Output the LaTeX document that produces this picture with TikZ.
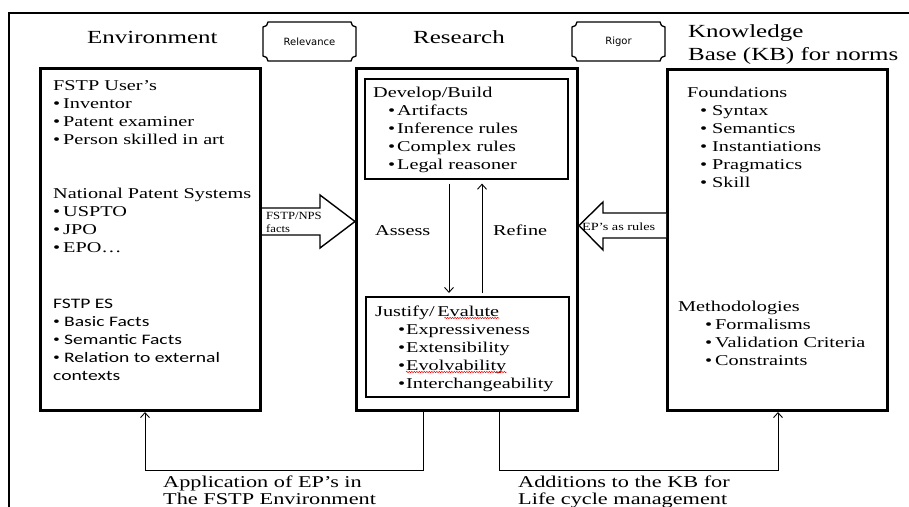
\documentclass[tikz,border=0pt]{standalone}
\usepackage{fontspec}
\setmainfont{Liberation Serif}[FakeStretch=1.35]
\newfontfamily\calfont{Carlito}[FakeStretch=1.35]
\newfontfamily\dvfont{DejaVu Sans}
\newfontfamily\smallserif{Liberation Serif}[FakeStretch=1.15]
\newfontfamily\wideserif{Liberation Serif}[FakeStretch=1.3]
\usetikzlibrary{arrows.meta,decorations.pathmorphing,calc}
\newcommand\bul[2][10pt]{\makebox[#1][l]{•}#2}
\newcommand\cbul[1]{\makebox[11pt][l]{\rmfamily •}#1}
\newcommand\plaque[4]{%
  \draw[plq] (#1+5,#2) -- (#3-5,#2) arc[start angle=180,end angle=90,radius=5]
   -- (#3,#4-5) arc[start angle=270,end angle=180,radius=5]
   -- (#1+5,#4) arc[start angle=0,end angle=-90,radius=5]
   -- (#1,#2+5) arc[start angle=90,end angle=0,radius=5] -- cycle;}
\begin{document}
\begin{tikzpicture}[x=1pt,y=-1pt,
  bigbox/.style={draw, line width=3pt, anchor=north west, inner sep=0pt},
  inbox/.style={draw, line width=1.6pt, anchor=north west, inner sep=0pt},
  plq/.style={draw, line width=1.3pt},
  fat/.style={draw, line width=1.4pt, fill=white, line join=miter},
  txt/.style={anchor=base west, inner sep=0pt, font=\fontsize{15}{18}\selectfont},
  caltxt/.style={anchor=base west, inner sep=0pt, font=\calfont\fontsize{14.5}{17}\selectfont},
  ttl/.style={anchor=base west, inner sep=0pt, font=\fontsize{18.5}{21}\selectfont},
  lbl/.style={anchor=base west, inner sep=0pt, font=\fontsize{16.5}{19}\selectfont},
  small/.style={anchor=base west, inner sep=0pt, font=\smallserif\fontsize{11}{12}\selectfont},
  sans/.style={inner sep=0pt, font=\dvfont\fontsize{10}{12}\selectfont},
  arr/.style={line width=0.9pt, -{Straight Barb[length=5pt,width=9pt]}},
  wavy/.style={red, line width=0.5pt, decorate, decoration={snake, amplitude=0.7pt, segment length=2.5pt}}
]
\useasboundingbox (0,0) rectangle (909,506);
\fill[white] (0,0) rectangle (909,506);
% outer frame
\draw[line width=2pt] (9,512) -- (9,13) -- (915,13);

% titles
\node[ttl] (tEnv) at (87,43) {Environment};
\node[ttl] (tRes) at (413,43) {Research};
\node[ttl] (tKB1) at (688,37) {Knowledge};
\node[ttl] (tKB2) at (688,60) {Base (KB) for norms};

% plaques
\plaque{263}{22}{356}{61}
\node[sans] (rel) at (309.5,41.5) {Relevance};
\plaque{572}{22}{665}{61}
\node[sans] (rig) at (618.5,41.5) {Rigor};

% boxes
\node[bigbox, minimum width=220pt, minimum height=342pt] (env) at (39,67) {};
\node[bigbox, minimum width=221pt, minimum height=342pt] (res) at (355,67) {};
\node[inbox, minimum width=203pt, minimum height=100pt] (dev) at (364,78) {};
\node[inbox, minimum width=203pt, minimum height=100pt] (jus) at (365,296) {};
\node[bigbox, minimum width=220pt, minimum height=341pt] (kb) at (666,68) {};

% fat arrows
\draw[fat] (env.east |- 0,208) -- (320,208) -- (320,195) -- (res.west |- 0,221.5)
  -- (320,248) -- (320,235) -- (env.east |- 0,235);
\node[small] (fn1) at (266,219) {FSTP/NPS};
\node[small] (fn2) at (266,232) {facts};
\draw[fat] (kb.west |- 0,213) -- (603,213) -- (603,202) -- (res.east |- 0,225.5)
  -- (603,250) -- (603,238) -- (kb.west |- 0,238);
\node[small, font=\wideserif\fontsize{11}{12}\selectfont] (ep) at (582,230) {EP’s as rules};

% left box text
\foreach \t [count=\i] in {FSTP User’s,\bul{Inventor},\bul{Patent examiner},\bul{Person skilled in art}}
  \node[txt] (ea\i) at (53,{90+18.3*(\i-1)}) {\t};
\foreach \t [count=\i] in {National Patent Systems,\bul{USPTO},\bul{JPO},\bul{EPO…}}
  \node[txt] (eb\i) at (53,{198+18.3*(\i-1)}) {\t};
\foreach \t [count=\i] in {FSTP ES,\cbul{Basic Facts},\cbul{Semantic Facts},\cbul{Relation to external},contexts}
  \node[caltxt] (ec\i) at (53,{308+18.1*(\i-1)}) {\t};

% middle text
\node[txt] (d0) at (373,97) {Develop/Build};
\foreach \t [count=\i] in {Artifacts,Inference rules,Complex rules,Legal reasoner}
  \node[txt] (d\i) at (388,{97+18.1*\i}) {\bul[9pt]{\t}};
\node[txt] (ass) at (375,235) {Assess};
\node[txt] (ref) at (493,235) {Refine};
\node[txt] (j0) at (375,316) {Justify/\,Evalute};
\foreach \t [count=\i] in {Expressiveness,Extensibility,Evolvability,Interchangeability}
  \node[txt] (j\i) at (398,{316+18*\i}) {\bul[8pt]{\t}};
\draw[wavy] ($(j0.base east)+(-55,2)$) -- ($(j0.base east)+(0,2)$);
\draw[wavy] ($(j3.base west)+(8,2)$) -- ($(j3.base east)+(0,2)$);

% right text
\node[txt] (f0) at (687,97) {Foundations};
\foreach \t [count=\i] in {Syntax,Semantics,Instantiations,Pragmatics,Skill}
  \node[txt] (f\i) at (700,{97+18*\i}) {\bul[12pt]{\t}};
\node[txt] (m0) at (678,311) {Methodologies};
\foreach \t [count=\i] in {Formalisms,Validation Criteria,Constraints}
  \node[txt] (m\i) at (705,{311+18*\i}) {\bul[10pt]{\t}};

% thin arrows
\coordinate (xa) at (449,0);
\coordinate (xr) at (482,0);
\draw[arr] ($(dev.south -| xa)+(0,4)$) -- ($(jus.north -| xa)+(0,-3)$);
\draw[arr] ($(jus.north -| xr)+(0,-3)$) -- ($(dev.south -| xr)+(0,4)$);

% bottom connectors
\coordinate (b1) at (423,0);
\coordinate (b2) at (145,0);
\coordinate (b3) at (499,0);
\coordinate (b4) at (778,0);
\draw[arr] (res.south -| b1) -- ++(0,58) -| (env.south -| b2);
\draw[arr] (res.south -| b3) -- ++(0,58) -| (kb.south -| b4);

\node[lbl] (la1) at (163,487) {Application of EP’s in};
\node[lbl] (la2) at (163,504) {The  FSTP  Environment};
\node[lbl] (lb1) at (518,487) {Additions to the KB for};
\node[lbl] (lb2) at (518,504) {Life cycle management};
\end{tikzpicture}
\end{document}
